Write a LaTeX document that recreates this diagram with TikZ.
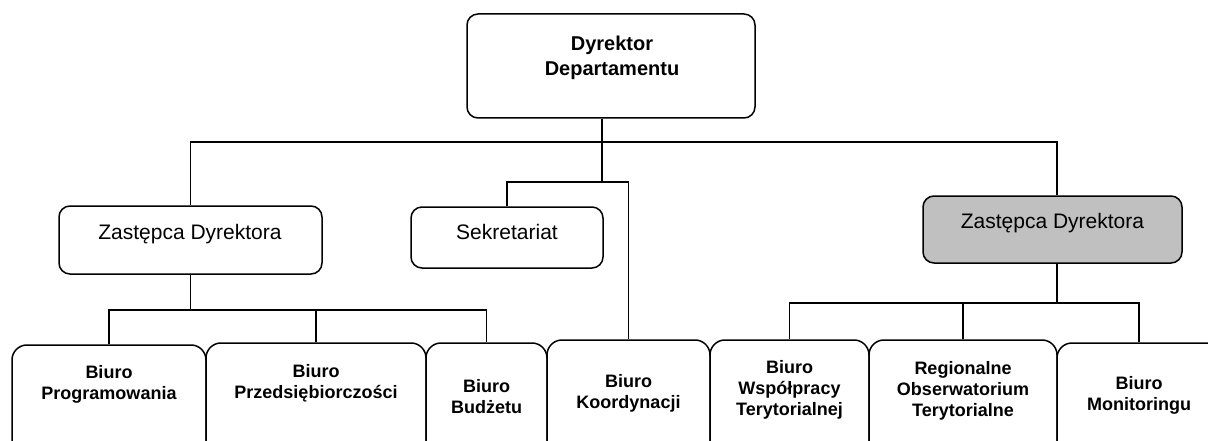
\documentclass[tikz,border=0pt]{standalone}
\usepackage{fontspec}
\setmainfont{Liberation Sans}
\usepackage{tikz}
\definecolor{boxgray}{RGB}{192,192,192}
\tikzset{
  box/.style={draw, line width=1.5pt, rounded corners=11pt, inner sep=0pt},
  unit/.style={box, rounded corners=15pt, minimum height=130pt},
  bold/.style={font=\bfseries\fontsize{18}{21}\selectfont, align=center, inner sep=0pt},
  plain/.style={font=\fontsize{21}{24}\selectfont, align=center, inner sep=0pt}
}

\begin{document}
\begin{tikzpicture}[x=1pt,y=-1pt,line width=1.5pt]
\useasboundingbox (0,0) rectangle (1208,441);
\node[box, minimum width=288pt, minimum height=104pt] (dyr) at (611,66) {};
\node[box, minimum width=263pt, minimum height=68pt] (zl) at (190.5,240) {};
\node[box, minimum width=192pt, minimum height=61pt] (sek) at (507,237.5) {};
\node[box, fill=boxgray, minimum width=259pt, minimum height=67pt] (zr) at (1052.5,229.5) {};
\node[unit, minimum width=194pt] (prog) at (109,410) {};
\node[unit, minimum width=220pt] (przed) at (316,408) {};
\node[unit, minimum width=121pt] (budz) at (486.5,408) {};
\node[unit, minimum width=163pt] (koord) at (628.5,405) {};
\node[unit, minimum width=159pt] (wsp) at (789.5,405) {};
\node[unit, minimum width=188pt] (reg) at (963,405) {};
\node[unit, minimum width=164pt] (mon) at (1139,408) {};

\node[bold, font=\bfseries\fontsize{20}{25}\selectfont] (tdyr) at (612,58) {Dyrektor\\Departamentu};
\node[plain] (tzl) at (190,234) {Zastępca Dyrektora};
\node[plain] (tsek) at (507,232) {Sekretariat};
\node[plain] (tzr) at (1052.5,223) {Zastępca Dyrektora};
\node[bold] (tprog) at (109,384) {Biuro\\Programowania};
\node[bold] (tprzed) at (316,383) {Biuro\\Przedsiębiorczości};
\node[bold] (tbudz) at (486.5,397) {Biuro\\Budżetu};
\node[bold] (tkoord) at (628.5,393) {Biuro\\Koordynacji};
\node[bold] (twsp) at (789.5,390) {Biuro\\Współpracy\\Terytorialnej};
\node[bold] (treg) at (963,391) {Regionalne\\Obserwatorium\\Terytorialne};
\node[bold] (tmon) at (1139,395) {Biuro\\Monitoringu};

\coordinate (hub) at (602,142);
\coordinate (rx) at (1057,142);
\coordinate (shub) at (602,182);
\coordinate (lhub) at (190.5,310);
\coordinate (rhub) at (1057,303);

\draw (dyr.south -| hub) -- (hub);
\draw (zl.north) |- (rx) -- (rx |- zr.north);
\draw (hub) -- (shub);
\draw (sek.north) |- (shub) -| (koord.north);
\draw (zl.south) -- (lhub);
\draw (prog.north) |- (lhub) -| (budz.north);
\draw (przed.north) -- (przed.north |- lhub);
\draw (rhub |- zr.south) -- (rhub);
\draw (wsp.north) |- (rhub) -| (mon.north);
\draw (reg.north) -- (reg.north |- rhub);
\end{tikzpicture}
\end{document}
